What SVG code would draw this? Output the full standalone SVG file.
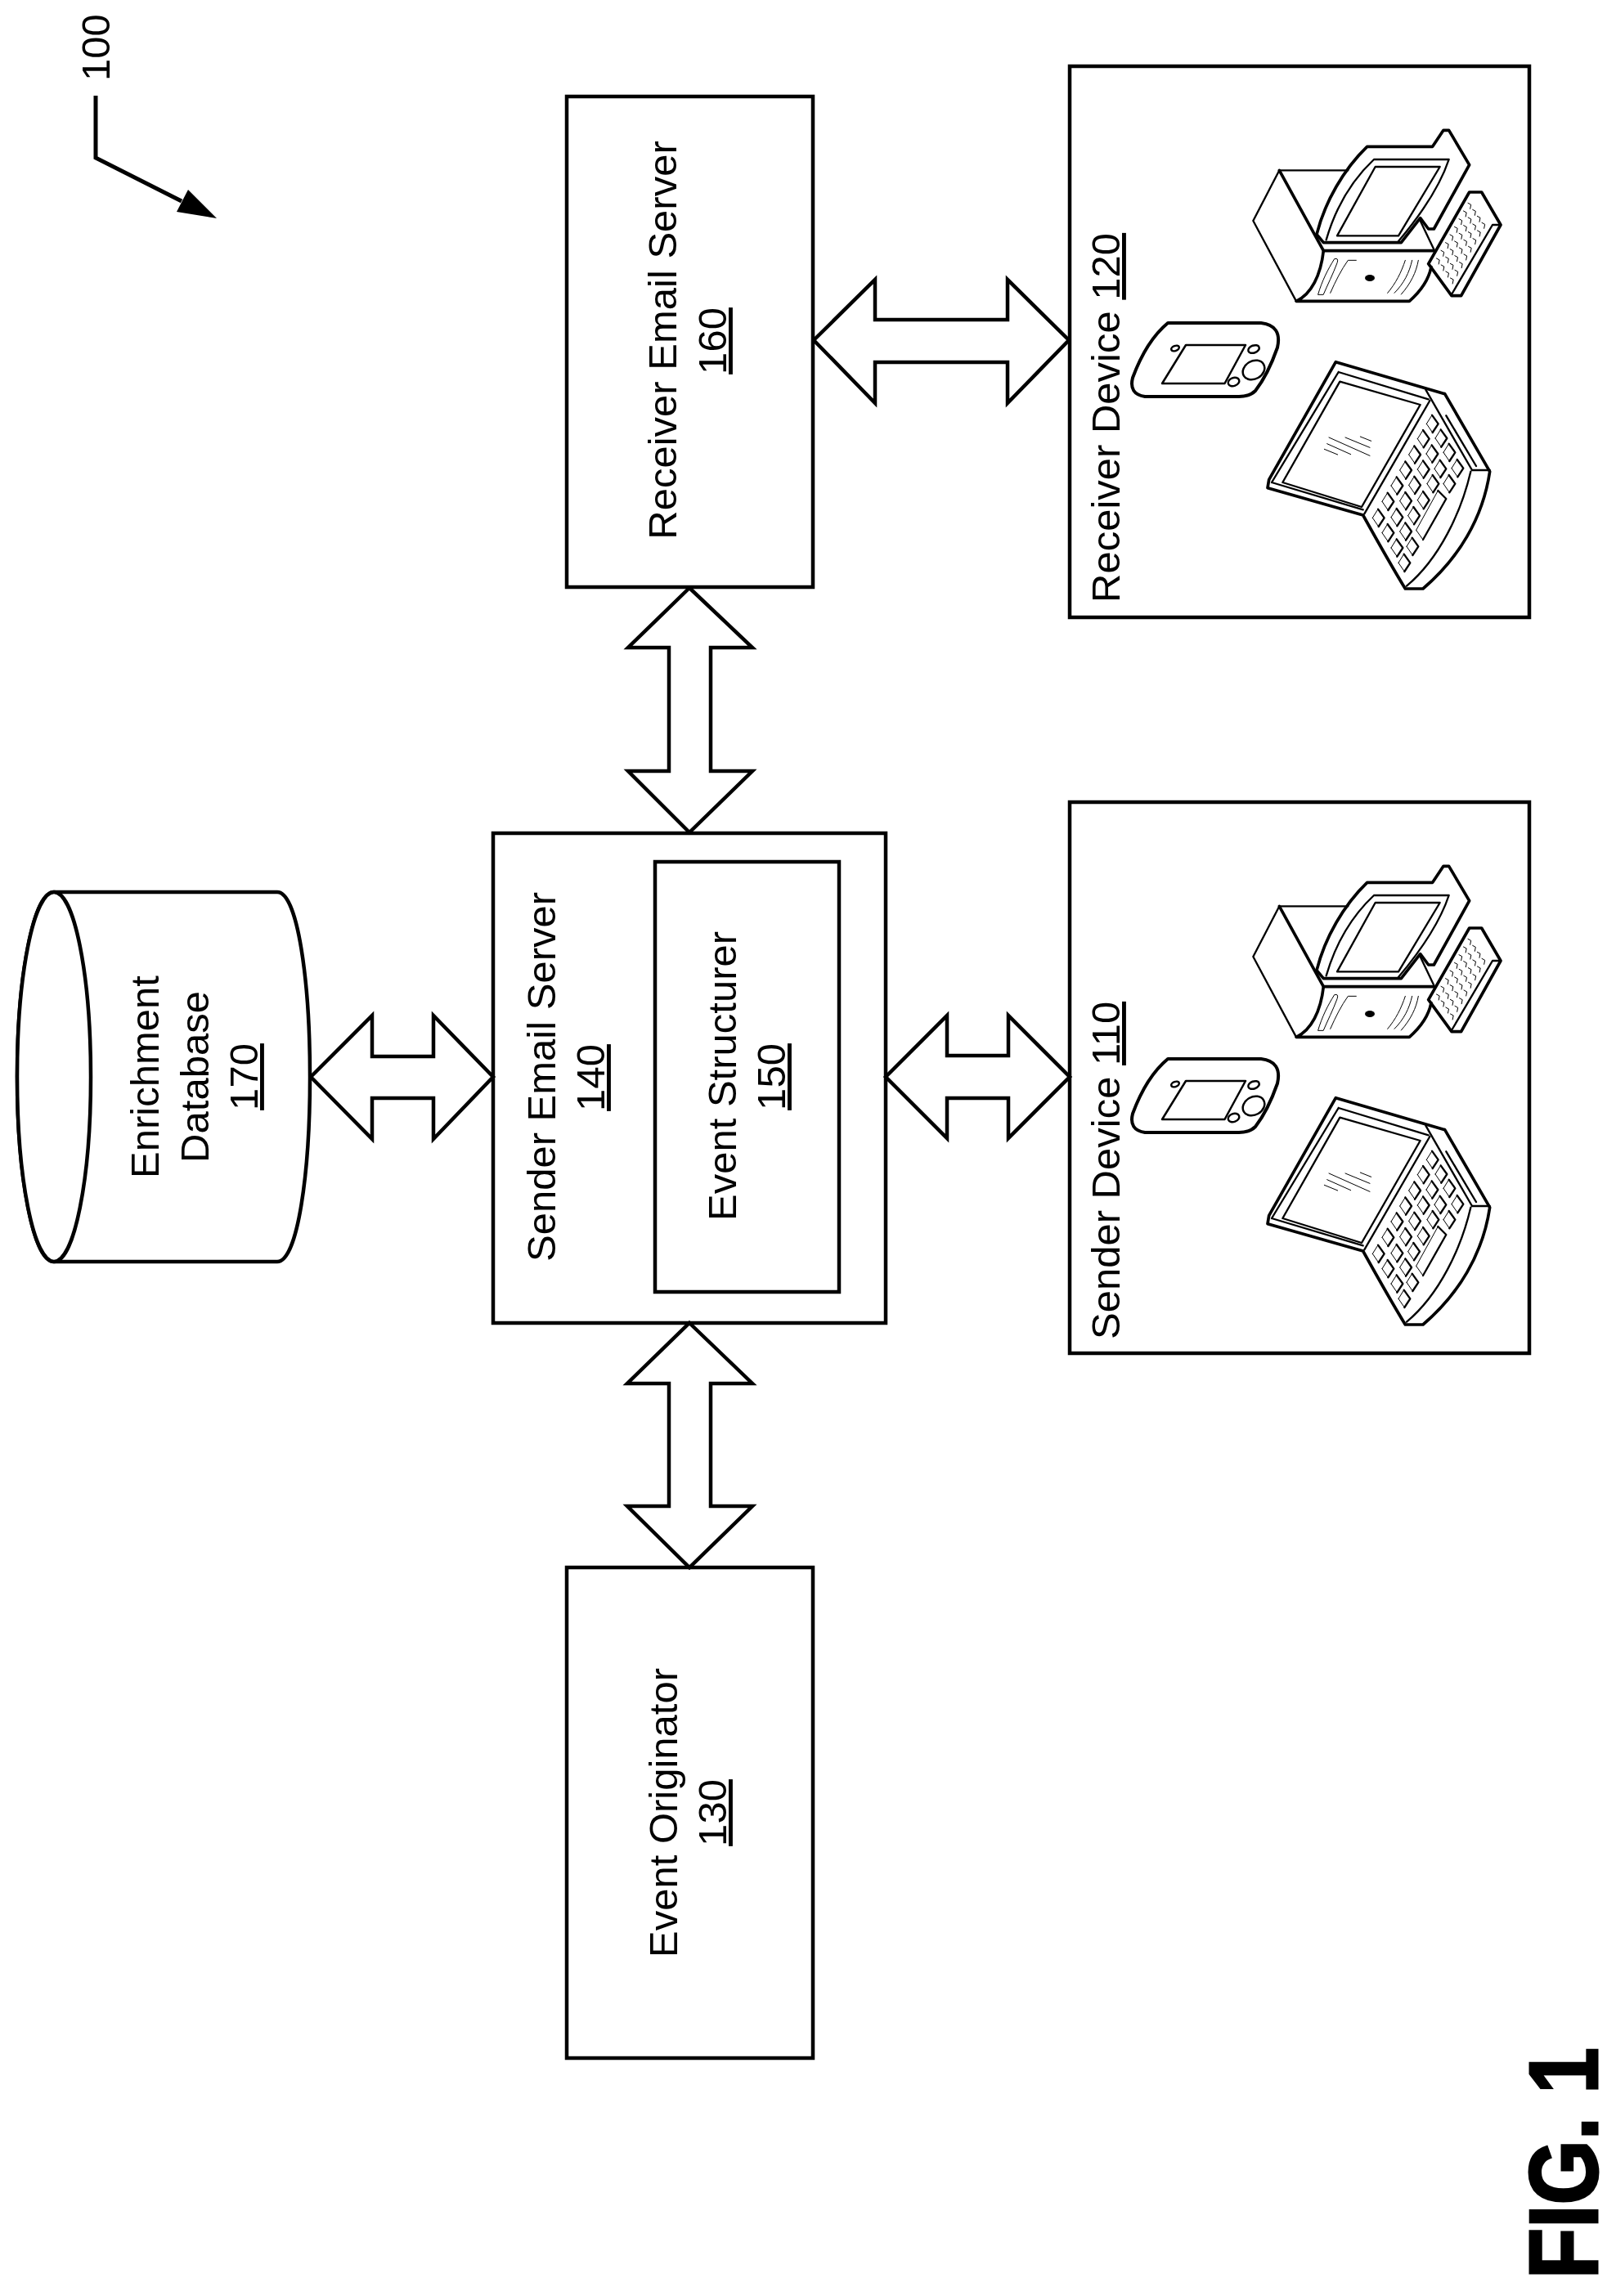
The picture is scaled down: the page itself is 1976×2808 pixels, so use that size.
<svg xmlns="http://www.w3.org/2000/svg" width="1976" height="2808" viewBox="0 0 1976 2808">
<style>
.box{fill:#fff;stroke:#000;stroke-width:4.5}
.arrow{fill:#fff;stroke:#000;stroke-width:4.5;stroke-linejoin:miter}
.t{font-family:"Liberation Sans",Arial,sans-serif;font-size:49px;fill:#000;text-anchor:middle}
.s{text-anchor:start}
.u{text-decoration:underline}
.ic{fill:none;stroke:#000;stroke-linejoin:round;stroke-linecap:round}
.th{stroke-width:11}
.md{stroke-width:7}
.tn{stroke-width:3}
</style>
<defs>
<g id="key"><path class="ic tn" d="M-20 0L0-32M-20 0L2 32"/><path class="ic md" d="M0-32L23 0L2 32"/></g>
<path id="km" class="ic tn" d="M0 0l11 6l-3 15M17 24l11 6l-3 15M34 48l11 6l-3 15M51 72l11 6l-3 15"/>
<g id="devices">
<g transform="translate(1520,130) scale(.33333)">
<path class="ic md" d="M133 235L37 420L195 715M133 235H385"/>
<path class="ic th" d="M133 235L295 530C285 620 250 690 195 715H610C650 680 680 640 690 590"/>
<path class="ic th" d="M295 530H700M270 470C300 350 370 230 455 148H695L735 88H755L830 215L700 450H680L650 410L580 500H295L270 470"/>
<path class="ic md" d="M650 420L700 525M305 490C340 370 400 270 480 195H755C720 300 650 400 570 495"/>
<path class="ic md" d="M345 475L485 222H722L570 475Z"/>
<path class="ic tn" d="M275 690C290 640 310 600 335 560Q352 555 345 575C330 615 310 655 295 690Z"/>
<path class="ic tn" d="M320 685C340 640 360 600 385 565H415M530 685C560 650 580 610 595 565M555 685C590 650 610 610 620 565M580 690C615 650 635 610 643 565"/>
<ellipse cx="465" cy="630" rx="18" ry="12" fill="#000" stroke="none"/>
<path class="ic th" d="M680 578L830 315H875L945 435L800 695H765L680 578"/>
<path class="ic md" d="M765 690L915 435H945"/>
<use href="#km" transform="translate(825,355)"/><use href="#km" transform="translate(808.5,384)"/><use href="#km" transform="translate(792,413)"/><use href="#km" transform="translate(775.5,442)"/><use href="#km" transform="translate(759,471)"/><use href="#km" transform="translate(742.5,500)"/><use href="#km" transform="translate(726,529)"/><use href="#km" transform="translate(709.5,558)"/>
</g>
<g id="phone" class="ic">
<path stroke-width="4" d="M1428 395H1542Q1568 398 1562 425C1555 445 1545 465 1535 478Q1528 485 1515 485H1400Q1380 482 1385 462C1395 435 1410 410 1428 395Z"/>
<path stroke-width="2.5" d="M1450 422H1523L1497.500 469H1421Z"/>
<ellipse stroke-width="2.500" cx="1437" cy="426" rx="5" ry="3" transform="rotate(-20 1437 426)"/>
<ellipse stroke-width="2.500" cx="1533" cy="427" rx="7" ry="4.500" transform="rotate(-20 1533 427)"/>
<ellipse stroke-width="2.500" cx="1508.500" cy="467" rx="7" ry="5" transform="rotate(-20 1508.500 467)"/>
<ellipse stroke-width="2.500" cx="1533" cy="452.500" rx="14" ry="11" transform="rotate(-30 1533 452.500)"/>
</g>
<g transform="translate(1520,420) scale(.33333)">
<path class="ic th" d="M740 185L340 68L95 500L90 530L440 630C490 720 540 810 595 900H660C790 790 880 640 905 470L740 185"/>
<path class="ic md" d="M350 105L680 205M350 105L105 510M105 510L440 610"/>
<path class="ic md" d="M355 140L145 510L435 600L650 225Z"/>
<path class="ic md" d="M445 625L685 210"/>
<path class="ic md" d="M670 170L840 465H905M835 470C800 620 720 790 600 890M745 265L855 450"/>
<path class="ic tn" d="M315 345L465 412M375 345L465 382M430 342L470 358M308 368L395 407M298 388L347 408"/>
<use href="#key" x="693" y="295"/><use href="#key" x="660" y="350"/><use href="#key" x="725" y="348"/><use href="#key" x="628" y="408"/><use href="#key" x="692" y="405"/><use href="#key" x="755" y="400"/><use href="#key" x="595" y="465"/><use href="#key" x="660" y="462"/><use href="#key" x="722" y="460"/><use href="#key" x="785" y="458"/><use href="#key" x="563" y="522"/><use href="#key" x="628" y="520"/><use href="#key" x="695" y="515"/><use href="#key" x="755" y="515"/><use href="#key" x="530" y="580"/><use href="#key" x="595" y="578"/><use href="#key" x="660" y="575"/><use href="#key" x="495" y="640"/><use href="#key" x="563" y="638"/><use href="#key" x="625" y="632"/><use href="#key" x="530" y="695"/><use href="#key" x="595" y="690"/><use href="#key" x="563" y="750"/><use href="#key" x="620" y="745"/><use href="#key" x="590" y="805"/>
<path class="ic tn" d="M635 685L715 540M635 685L660 720"/><path class="ic md" d="M715 540L745 570L660 720"/>
</g>
</g>
</defs>
<rect width="1976" height="2808" fill="#fff"/>

<g id="ref-100">
<text class="t s" transform="translate(134,99) rotate(-90)">100</text>
<path d="M117 117V193L222 246" fill="none" stroke="#000" stroke-width="5"/>
<polygon points="265,267 230,232 216,259" fill="#000"/>
</g>

<g id="enrichment-database-170">
<path class="box" d="M66 1091H339C364 1091 379 1200 379 1317S364 1543 339 1543H66C41 1543 21 1440 21 1317S41 1091 66 1091Z"/>
<ellipse cx="66" cy="1317" rx="45" ry="226" class="box"/>
<text class="t" transform="translate(194,1317) rotate(-90)">Enrichment</text>
<text class="t" transform="translate(254.500,1317) rotate(-90)">Database</text>
<text class="t u" transform="translate(315,1317) rotate(-90)">170</text>
</g>

<g id="receiver-email-server-160">
<rect class="box" x="693" y="118" width="301" height="600"/>
<text class="t" transform="translate(827,416) rotate(-90)">Receiver Email Server</text>
<text class="t u" transform="translate(888,417) rotate(-90)">160</text>
</g>

<g id="sender-email-server-140">
<rect class="box" x="603" y="1019" width="480" height="599"/>
<text class="t" transform="translate(679,1317) rotate(-90)">Sender Email Server</text>
<text class="t u" transform="translate(739,1318) rotate(-90)">140</text>
</g>

<g id="event-structurer-150">
<rect class="box" x="801" y="1054" width="225" height="526"/>
<text class="t" transform="translate(900,1316) rotate(-90)">Event Structurer</text>
<text class="t u" transform="translate(960,1317) rotate(-90)">150</text>
</g>

<g id="event-originator-130">
<rect class="box" x="693" y="1917" width="301" height="600"/>
<text class="t" transform="translate(828,2217) rotate(-90)">Event Originator</text>
<text class="t u" transform="translate(888,2217) rotate(-90)">130</text>
</g>

<g id="receiver-device-120">
<rect class="box" x="1308" y="81" width="562" height="674"/>
<text class="t s" transform="translate(1369,737) rotate(-90)">Receiver Device <tspan class="u">120</tspan></text>
<use href="#devices"/>
</g>

<g id="sender-device-110">
<rect class="box" x="1308" y="981" width="562" height="674"/>
<text class="t s" transform="translate(1369,1638) rotate(-90)">Sender Device <tspan class="u">110</tspan></text>
<use href="#devices" transform="translate(0,900)"/>
</g>

<g id="connectors">
<polygon class="arrow" points="995,416 1070,342 1070,391 1232,391 1232,342 1307,416 1232,493 1232,443 1070,443 1070,493"/>
<polygon class="arrow" points="843,719 920,792 869,792 869,943 920,943 843,1018 768,943 818,943 818,792 768,792"/>
<polygon class="arrow" points="1083,1317 1158,1242 1158,1291 1233,1291 1233,1242 1308,1317 1233,1392 1233,1343 1158,1343 1158,1392"/>
<polygon class="arrow" points="380,1317 455,1242 455,1292 530,1292 530,1242 603,1317 530,1393 530,1343 455,1343 455,1393"/>
<polygon class="arrow" points="843,1618 920,1692 869,1692 869,1842 920,1842 843,1917 767,1842 818,1842 818,1692 767,1692"/>
</g>

<g id="figure-label">
<text transform="translate(1953,2787) rotate(-90)" font-family="'Liberation Sans',Arial,sans-serif" font-weight="700" font-size="119" stroke="#000" stroke-width="3" textLength="283" lengthAdjust="spacingAndGlyphs">FIG. 1</text>
</g>
</svg>
